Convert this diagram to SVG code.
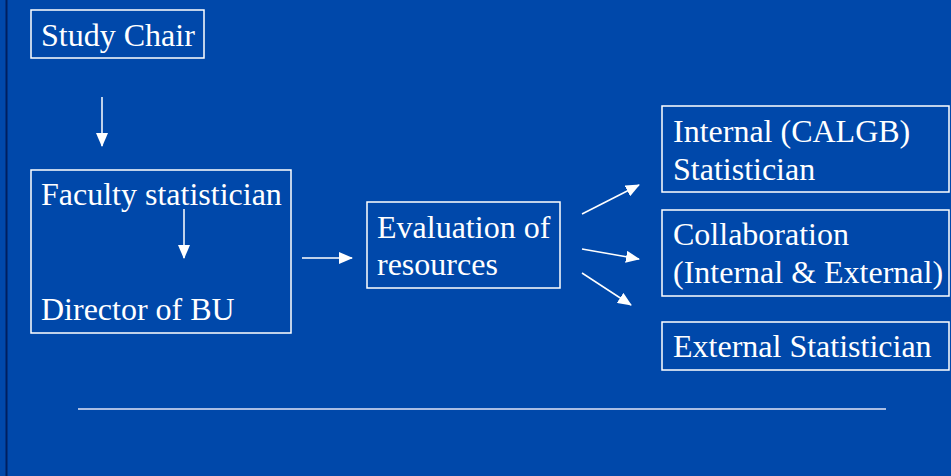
<svg xmlns="http://www.w3.org/2000/svg" width="951" height="476" viewBox="0 0 951 476">
<style>
.box{fill:none;stroke:#ffffff;stroke-width:1.5}
.t{font-family:"Liberation Serif","Times New Roman",serif;font-size:32px;fill:#ffffff}
.c{stroke:#ffffff;stroke-width:1.5;fill:none;marker-end:url(#ah)}
</style>
<defs>
<marker id="ah" markerUnits="userSpaceOnUse" markerWidth="14" markerHeight="12" viewBox="0 0 14 12" refX="13" refY="6" orient="auto">
<path d="M0,0 L14,6 L0,12 Z" fill="#ffffff"/>
</marker>
</defs>
<rect x="0" y="0" width="951" height="476" fill="#0048aa"/>
<rect x="5.5" y="0" width="2" height="476" fill="#001f5e"/>
<g id="study-chair">
<rect class="box" x="31" y="10" width="173" height="48"/>
<text class="t" x="41" y="46">Study Chair</text>
</g>
<g id="faculty-director">
<rect class="box" x="31" y="170" width="260" height="163"/>
<text class="t" x="41" y="205">Faculty statistician</text>
<text class="t" x="41" y="320">Director of BU</text>
</g>
<g id="evaluation">
<rect class="box" x="367" y="202" width="193" height="86"/>
<text class="t" x="377" y="238">Evaluation of</text>
<text class="t" x="377" y="275">resources</text>
</g>
<g id="internal">
<rect class="box" x="662" y="106" width="287" height="86"/>
<text class="t" x="673" y="142">Internal (CALGB)</text>
<text class="t" x="673" y="180">Statistician</text>
</g>
<g id="collaboration">
<rect class="box" x="662" y="210" width="287" height="86"/>
<text class="t" x="673" y="245">Collaboration</text>
<text class="t" x="673" y="283">(Internal &amp; External)</text>
</g>
<g id="external">
<rect class="box" x="662" y="322" width="287" height="48"/>
<text class="t" x="673" y="357">External Statistician</text>
</g>
<g id="connectors">
<line class="c" x1="102" y1="97" x2="102" y2="146"/>
<line class="c" x1="184" y1="209" x2="184" y2="258"/>
<line class="c" x1="302" y1="258" x2="352" y2="258"/>
<line class="c" x1="582" y1="214" x2="639" y2="185"/>
<line class="c" x1="582" y1="249" x2="639" y2="259"/>
<line class="c" x1="582" y1="273" x2="631" y2="305"/>
</g>
<line x1="78" y1="409" x2="886" y2="409" stroke="#a9bde3" stroke-width="2"/>
</svg>
